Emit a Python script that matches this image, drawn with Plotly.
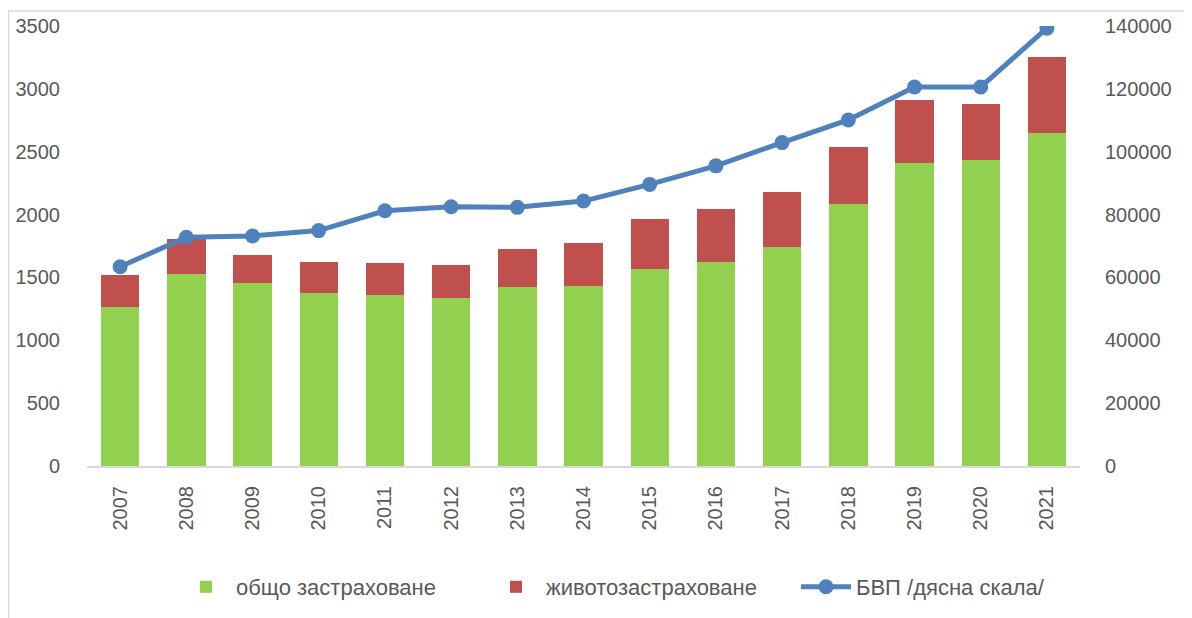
import plotly.graph_objects as go

years = ["2007", "2008", "2009", "2010", "2011", "2012", "2013", "2014",
         "2015", "2016", "2017", "2018", "2019", "2020", "2021"]
general_ins = [1265, 1526, 1455, 1373, 1359, 1333, 1423, 1434,
               1566, 1619, 1746, 2085, 2409, 2438, 2647]
life_total = [1517, 1807, 1677, 1619, 1611, 1600, 1725, 1770,
              1961, 2048, 2176, 2536, 2910, 2878, 3257]
life_ins = [t - g for t, g in zip(life_total, general_ins)]
gdp = [63400, 72800, 73200, 74900, 81200, 82500, 82300, 84300,
       89600, 95500, 102900, 110100, 120600, 120600, 139300]

font_fam = "Liberation Sans, Arial, sans-serif"
txt_col = "#595959"

# page body has an 8px margin; compensate so the plot lands where the reference has it
L, T = 79, 18
PW, PH = 993, 440
R = 1192 - L - PW
B = 618 - T - PH

fig = go.Figure()
fig.add_trace(go.Bar(x=years, y=general_ins, name="общо застраховане",
                     marker=dict(color="#92D050", line=dict(width=0))))
fig.add_trace(go.Bar(x=years, y=life_ins, name="животозастраховане",
                     marker=dict(color="#C0504D", line=dict(width=0))))
fig.add_trace(go.Scatter(x=years, y=gdp, name="БВП /дясна скала/", yaxis="y2",
                         mode="lines+markers",
                         line=dict(color="#4F81BD", width=5),
                         marker=dict(color="#4F81BD", size=15)))

fig.update_layout(
    width=1192, height=618,
    margin=dict(l=L, r=R, t=T, b=B),
    paper_bgcolor="white", plot_bgcolor="white",
    barmode="stack", bargap=0.42,
    font=dict(family=font_fam, color=txt_col, size=20),
    xaxis=dict(type="category", range=[-0.5, len(years) - 0.5],
               tickangle=-90, showgrid=False,
               showline=True, linecolor="#d9d9d9", linewidth=2,
               ticks="outside", ticklen=10, tickcolor="rgba(0,0,0,0)",
               tickfont=dict(size=20, color=txt_col), automargin=False),
    yaxis=dict(range=[0, 3500], dtick=500, showgrid=False, zeroline=False,
               ticks="outside", ticklen=22, tickcolor="rgba(0,0,0,0)",
               tickfont=dict(size=20, color=txt_col), automargin=False),
    yaxis2=dict(range=[0, 140000], dtick=20000, overlaying="y", side="right",
                showgrid=False, zeroline=False, tickformat="d",
                ticks="outside", ticklen=20, tickcolor="rgba(0,0,0,0)",
                tickfont=dict(size=20, color=txt_col), automargin=False),
    legend=dict(orientation="h", x=(176 - 87) / PW, xanchor="left", y=-0.275,
                yanchor="middle", font=dict(size=22, color=txt_col),
                traceorder="normal", itemwidth=50,
                entrywidth=245, entrywidthmode="pixels"),
    showlegend=True,
    shapes=[
        dict(type="line", xref="paper", yref="paper",
             x0=(0 - L) / PW, x1=(1192 - L) / PW,
             y0=(PH + T - 3) / PH, y1=(PH + T - 3) / PH,
             line=dict(color="#d9d9d9", width=1.5)),
        dict(type="line", xref="paper", yref="paper",
             x0=(0.5 - L) / PW, x1=(0.5 - L) / PW,
             y0=(PH + T - 3) / PH, y1=-B / PH,
             line=dict(color="#d9d9d9", width=1.5)),
    ],
)

fig.write_html("out.html")
